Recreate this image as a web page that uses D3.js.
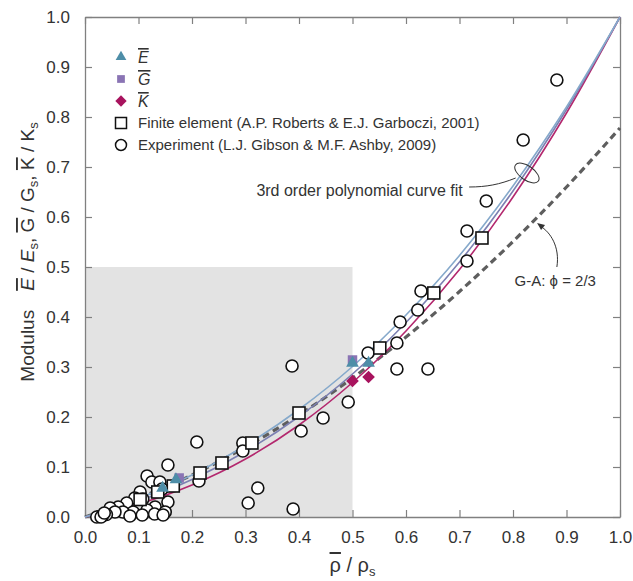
<!DOCTYPE html>
<html>
<head>
<meta charset="utf-8">
<script src="https://cdn.jsdelivr.net/npm/d3@7"></script>
<style>
  body { margin: 0; background: #fff; }
  text { font-family: "Liberation Sans", Arial, sans-serif; fill: #333; }
</style>
</head>
<body>
<svg id="chart" width="633" height="581"></svg>
<script>
// ticks
const xTicks = [0, 0.1, 0.2, 0.3, 0.4, 0.5, 0.6, 0.7, 0.8, 0.9, 1.0];
const yTicks = [0, 0.1, 0.2, 0.3, 0.4, 0.5, 0.6, 0.7, 0.8, 0.9, 1.0];

// fitted curves
const fitRho = [0, 0.1, 0.2, 0.3, 0.4, 0.5, 0.6, 0.7, 0.8, 0.9, 1.0];
const fitE = [0, 0.037, 0.084, 0.143, 0.215, 0.301, 0.404, 0.523, 0.662, 0.820, 1.0];
const fitG = [0, 0.032, 0.075, 0.131, 0.201, 0.286, 0.389, 0.510, 0.652, 0.815, 1.0];
const fitK = [0, 0.026, 0.064, 0.116, 0.184, 0.269, 0.372, 0.495, 0.640, 0.808, 1.0];
// Gibson-Ashby, phi = 2/3
const gaModulus = [0, 0.038, 0.084, 0.140, 0.204, 0.278, 0.360, 0.451, 0.551, 0.660, 0.778];

// this work
const ePoints = [[0.145, 0.058], [0.17, 0.075], [0.5, 0.308], [0.53, 0.308]];
const gPoints = [[0.176, 0.078], [0.5, 0.314]];
const kPoints = [[0.5, 0.272], [0.53, 0.28]];

// Roberts & Garboczi
const fePoints = [[0.103, 0.035], [0.136, 0.05], [0.165, 0.062], [0.215, 0.088], [0.256, 0.108],
  [0.312, 0.148], [0.4, 0.208], [0.551, 0.338], [0.652, 0.448], [0.742, 0.558]];

// Gibson & Ashby experiments
const expPoints = [
  [0.882, 0.874], [0.819, 0.754], [0.75, 0.632], [0.714, 0.572], [0.714, 0.512], [0.628, 0.452],
  [0.622, 0.414], [0.589, 0.39], [0.583, 0.348], [0.583, 0.296], [0.641, 0.296], [0.529, 0.328],
  [0.387, 0.302], [0.492, 0.23], [0.445, 0.198], [0.404, 0.172], [0.389, 0.016],
  [0.209, 0.15], [0.295, 0.148], [0.295, 0.132], [0.213, 0.072], [0.323, 0.058], [0.305, 0.028],
  [0.155, 0.104], [0.116, 0.082], [0.125, 0.07], [0.14, 0.07], [0.144, 0.056], [0.103, 0.05],
  [0.093, 0.038], [0.108, 0.036], [0.078, 0.028], [0.062, 0.02], [0.047, 0.018], [0.155, 0.03],
  [0.131, 0.02], [0.116, 0.014], [0.15, 0.01], [0.13, 0.006], [0.09, 0.01], [0.071, 0.01],
  [0.056, 0.01], [0.084, 0.002], [0.107, 0.004], [0.146, 0.004], [0.04, 0.005], [0.033, 0.003],
  [0.027, 0.001], [0.022, 0], [0.03, 0], [0.036, 0.008]
];

const svg = d3.select("#chart");
const x = d3.scaleLinear().domain([0, 1]).range([85, 620]);
const y = d3.scaleLinear().domain([0, 1]).range([517, 17]);

// grey shaded box
svg.append("rect")
  .attr("x", x(0)).attr("y", y(0.5))
  .attr("width", x(0.5) - x(0)).attr("height", y(0) - y(0.5))
  .attr("fill", "#e3e3e3");

// axes (ticks inward on all sides)
const axisColor = "#808080";
function styleAxis(g) {
  g.select(".domain").attr("stroke", axisColor).attr("stroke-width", 1.3);
  g.selectAll(".tick line").attr("stroke", axisColor).attr("stroke-width", 1.2);
  g.selectAll(".tick text").attr("fill", "#333").style("font-size", "17px")
    .style("font-family", '"Liberation Sans", Arial, sans-serif');
}
svg.append("g").attr("transform", `translate(0,${y(0)})`)
  .call(d3.axisBottom(x).tickValues(xTicks).tickFormat(d3.format(".1f")).tickSizeInner(-7).tickSizeOuter(0).tickPadding(14))
  .call(styleAxis);
svg.append("g").attr("transform", `translate(0,${y(1)})`)
  .call(d3.axisTop(x).tickValues(xTicks).tickFormat("").tickSizeInner(-7).tickSizeOuter(0))
  .call(styleAxis);
svg.append("g").attr("transform", `translate(${x(0)},0)`)
  .call(d3.axisLeft(y).tickValues(yTicks).tickFormat(d3.format(".1f")).tickSizeInner(-7).tickSizeOuter(0).tickPadding(15))
  .call(styleAxis);
svg.append("g").attr("transform", `translate(${x(1)},0)`)
  .call(d3.axisRight(y).tickValues(yTicks).tickFormat("").tickSizeInner(-7).tickSizeOuter(0))
  .call(styleAxis);

// curves
const line = d3.line().x((d) => x(d[0])).y((d) => y(d[1])).curve(d3.curveMonotoneX);
const curves = [
  { vals: gaModulus, color: "#5e5e5e", width: 3.2, dash: "7,4.5" },
  { vals: fitK, color: "#b3286e", width: 1.6 },
  { vals: fitG, color: "#7c80b2", width: 1.6 },
  { vals: fitE, color: "#86a9cb", width: 1.6 },
];
curves.forEach((c) => {
  svg.append("path")
    .datum(fitRho.map((r, i) => [r, c.vals[i]]))
    .attr("d", line)
    .attr("fill", "none")
    .attr("stroke", c.color)
    .attr("stroke-width", c.width)
    .attr("stroke-dasharray", c.dash || null);
});

// markers
const sym = (type, size) => d3.symbol().type(type).size(size);
svg.append("g").selectAll("circle").data(expPoints).join("circle")
  .attr("cx", (d) => x(d[0])).attr("cy", (d) => y(d[1])).attr("r", 6)
  .attr("fill", "#fff").attr("stroke", "#111").attr("stroke-width", 1.6);
svg.append("g").selectAll("rect").data(fePoints).join("rect")
  .attr("x", (d) => x(d[0]) - 6).attr("y", (d) => y(d[1]) - 6)
  .attr("width", 12).attr("height", 12)
  .attr("fill", "#fff").attr("stroke", "#111").attr("stroke-width", 1.6);
svg.append("g").selectAll("path").data(gPoints).join("path")
  .attr("transform", (d) => `translate(${x(d[0])},${y(d[1])})`)
  .attr("d", sym(d3.symbolSquare, 90)).attr("fill", "#8a74b4");
svg.append("g").selectAll("path").data(ePoints).join("path")
  .attr("transform", (d) => `translate(${x(d[0])},${y(d[1])})`)
  .attr("d", sym(d3.symbolTriangle, 70)).attr("fill", "#4e8ea8");
// diamond = square turned 45 degrees
svg.append("g").selectAll("path").data(kPoints).join("path")
  .attr("transform", (d) => `translate(${x(d[0])},${y(d[1])}) rotate(45)`)
  .attr("d", sym(d3.symbolSquare, 80)).attr("fill", "#a8135e");

// legend
const lg = svg.append("g").attr("transform", "translate(121,57)");
const legendRows = [
  { kind: "E", label: "E" },
  { kind: "G", label: "G" },
  { kind: "K", label: "K" },
  { kind: "fe", label: "Finite element (A.P. Roberts & E.J. Garboczi, 2001)" },
  { kind: "exp", label: "Experiment (L.J. Gibson & M.F. Ashby, 2009)" },
];
legendRows.forEach((r, i) => {
  const g = lg.append("g").attr("transform", `translate(0,${i * 22})`);
  if (r.kind === "E") g.append("path").attr("d", sym(d3.symbolTriangle, 50)).attr("fill", "#4e8ea8");
  if (r.kind === "G") g.append("path").attr("d", sym(d3.symbolSquare, 60)).attr("fill", "#8a74b4");
  if (r.kind === "K") g.append("path").attr("transform", "rotate(45)")
    .attr("d", sym(d3.symbolSquare, 64)).attr("fill", "#a8135e");
  if (r.kind === "fe") g.append("rect").attr("x", -5.5).attr("y", -5.5).attr("width", 11).attr("height", 11)
    .attr("fill", "#fff").attr("stroke", "#111").attr("stroke-width", 1.5);
  if (r.kind === "exp") g.append("circle").attr("r", 5.5)
    .attr("fill", "#fff").attr("stroke", "#111").attr("stroke-width", 1.5);
  const t = g.append("text").attr("x", 17).attr("y", 5).style("font-size", "15px");
  if (r.kind.length === 1) {
    t.style("font-size", "16px").style("font-style", "italic").attr("y", 6)
      .style("text-decoration", "overline").text(r.label);
  } else {
    t.text(r.label);
  }
});

// annotation: polynomial fit
svg.append("text").attr("x", x(0.706)).attr("y", y(0.643))
  .attr("text-anchor", "end").style("font-size", "16px")
  .text("3rd order polynomial curve fit");
svg.append("path")
  .attr("d", `M${x(0.718)},${y(0.66)} C${x(0.75)},${y(0.66)} ${x(0.775)},${y(0.665)} ${x(0.805)},${y(0.678)}`)
  .attr("fill", "none").attr("stroke", "#333").attr("stroke-width", 1);
svg.append("ellipse")
  .attr("cx", x(0.826)).attr("cy", y(0.688))
  .attr("rx", 14).attr("ry", 7)
  .attr("transform", `rotate(35,${x(0.826)},${y(0.688)})`)
  .attr("fill", "none").attr("stroke", "#333").attr("stroke-width", 1);

// annotation: Gibson-Ashby
svg.append("text").attr("x", x(0.803)).attr("y", y(0.462)).style("font-size", "15px")
  .text("G-A:  \u03d5 = 2/3");
const tip = [x(0.845), y(0.588)];
svg.append("path")
  .attr("d", `M${x(0.882)},${y(0.5)} C${x(0.888)},${y(0.54)} ${x(0.87)},${y(0.57)} ${tip[0] + 3},${tip[1] + 3}`)
  .attr("fill", "none").attr("stroke", "#333").attr("stroke-width", 1);
svg.append("path")
  .attr("d", `M${tip[0]},${tip[1]} l8,2 l-4,5 z`)
  .attr("fill", "#333");

// axis titles
const xt = svg.append("text").attr("x", (x(0) + x(1)) / 2).attr("y", 572)
  .attr("text-anchor", "middle").style("font-size", "20px");
xt.append("tspan").style("text-decoration", "overline").text("\u03c1");
xt.append("tspan").text(" / \u03c1");
xt.append("tspan").attr("dy", 4).style("font-size", "13px").text("s");

const yt = svg.append("text")
  .attr("transform", `translate(34,252) rotate(-90)`)
  .attr("text-anchor", "middle").style("font-size", "19px");
yt.append("tspan").text("Modulus\u2002\u2002");
yt.append("tspan").style("font-style", "italic").style("text-decoration", "overline").text("E");
yt.append("tspan").text(" / ");
yt.append("tspan").style("font-style", "italic").text("E");
yt.append("tspan").attr("dy", 4).style("font-size", "13px").text("s");
yt.append("tspan").attr("dy", -4).text(", ");
yt.append("tspan").style("text-decoration", "overline").text("G");
yt.append("tspan").text(" / G");
yt.append("tspan").attr("dy", 4).style("font-size", "13px").text("s");
yt.append("tspan").attr("dy", -4).text(", ");
yt.append("tspan").style("text-decoration", "overline").text("K");
yt.append("tspan").text(" / K");
yt.append("tspan").attr("dy", 4).style("font-size", "13px").text("s");
</script>
</body>
</html>
